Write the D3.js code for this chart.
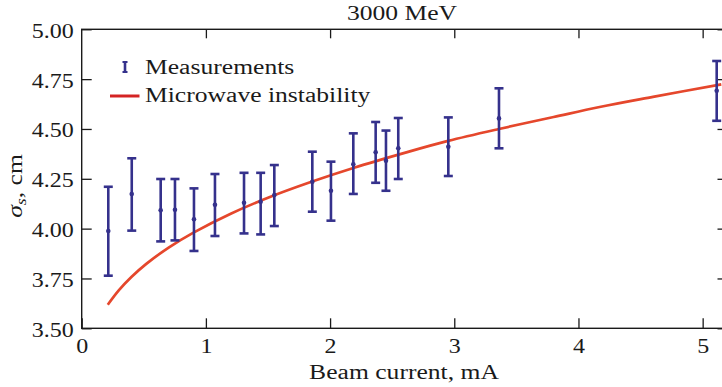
<!DOCTYPE html>
<html>
<head>
<meta charset="utf-8">
<style>
body { margin: 0; background: #fff; }
svg { display: block; font-family: "Liberation Serif", "DejaVu Serif", serif; }
</style>
</head>
<body>
<svg width="722" height="387"></svg>
<script src="https://cdn.jsdelivr.net/npm/d3@7/dist/d3.min.js"></script>
<script>

// measured points: beam current (mA), sigma_s centre and error bar ends (cm)
var current = [0.214, 0.403, 0.636, 0.751, 0.904, 1.073, 1.307, 1.441, 1.551, 1.857, 2.007, 2.187, 2.367, 2.450, 2.549, 2.952, 3.360, 5.113];
var sigma   = [3.988, 4.174, 4.092, 4.095, 4.047, 4.120, 4.130, 4.135, 4.169, 4.235, 4.190, 4.323, 4.383, 4.341, 4.403, 4.411, 4.553, 4.692];
var sigmaHi = [4.210, 4.353, 4.249, 4.249, 4.202, 4.274, 4.280, 4.280, 4.319, 4.386, 4.336, 4.478, 4.535, 4.492, 4.555, 4.558, 4.704, 4.841];
var sigmaLo = [3.764, 3.990, 3.936, 3.941, 3.888, 3.963, 3.976, 3.971, 4.013, 4.085, 4.040, 4.174, 4.230, 4.190, 4.249, 4.264, 4.403, 4.541];

// microwave instability curve
var curveX = [0.21, 0.30, 0.40, 0.52, 0.70, 0.90, 1.20, 1.50, 1.85, 2.20, 2.60, 2.95, 3.36, 3.80, 4.17, 4.60, 5.15];
var curveY = [3.618, 3.691, 3.757, 3.823, 3.905, 3.980, 4.075, 4.155, 4.235, 4.307, 4.380, 4.440, 4.500, 4.560, 4.610, 4.661, 4.724];

var xTicks = [0, 1, 2, 3, 4, 5];
var yTicks = [3.50, 3.75, 4.00, 4.25, 4.50, 4.75, 5.00];

var blue = "#35318c", red = "#e5472c", ink = "#1a1a1a";

var svg = d3.select("svg");

// plot frame runs a little past the right edge of the picture
var pL = 81.7, pR = 727.5, pT = 29.3, pB = 328.3;

var x = d3.scaleLinear().domain([0, 5.2]).range([pL, pR]);
var y = d3.scaleLinear().domain([3.5, 5.0]).range([pB, pT]);

var tickLen = 10;
var serif = "'Liberation Serif', 'DejaVu Serif', serif";
var wide = 1.28;   // the original type is wider than Times, stretch it a bit

// axes with inward ticks
svg.append("g")
    .attr("transform", "translate(0," + pB + ")")
    .call(d3.axisBottom(x).tickValues(xTicks).tickSizeInner(-tickLen).tickSizeOuter(0).tickPadding(0).tickFormat(d3.format("d")))
    .call(function(g) {
      g.attr("font-family", serif).attr("font-size", 20);
      g.select(".domain").remove();
      g.selectAll("text").attr("fill", ink).attr("y", 0).attr("dy", 0)
          .attr("transform", "translate(0,25) scale(1.2,1)");
    });

svg.append("g")
    .attr("transform", "translate(0," + pT + ")")
    .call(d3.axisTop(x).tickValues(xTicks.slice(1)).tickSizeInner(-9).tickSizeOuter(0).tickFormat(""))
    .call(function(g) { g.select(".domain").remove(); });

svg.append("g")
    .attr("transform", "translate(" + pL + ",0)")
    .call(d3.axisLeft(y).tickValues(yTicks).tickSizeInner(-tickLen).tickSizeOuter(0).tickPadding(0).tickFormat(d3.format(".2f")))
    .call(function(g) {
      g.attr("font-family", serif).attr("font-size", 20);
      g.select(".domain").remove();
      g.selectAll("text").attr("fill", ink).attr("x", 0).attr("dy", "0.4em")
          .attr("transform", "translate(-8,0) scale(1.2,1)");
    });

svg.append("g")
    .attr("transform", "translate(" + pR + ",0)")
    .call(d3.axisRight(y).tickValues(yTicks).tickSizeInner(-tickLen).tickSizeOuter(0).tickFormat(""))
    .call(function(g) { g.select(".domain").remove(); });

svg.selectAll(".tick line").attr("stroke", ink).attr("stroke-width", 1.3);

svg.append("rect")
    .attr("x", pL).attr("y", pT)
    .attr("width", pR - pL).attr("height", pB - pT)
    .attr("fill", "none").attr("stroke", ink).attr("stroke-width", 1.4);

// model curve
var pts = curveX.map(function(d, i) { return [d, curveY[i]]; });
svg.append("path")
    .datum(pts)
    .attr("fill", "none")
    .attr("stroke", red)
    .attr("stroke-width", 2.7)
    .attr("d", d3.line().x(function(d) { return x(d[0]); }).y(function(d) { return y(d[1]); }).curve(d3.curveCatmullRom));

// error bars
var bars = svg.append("g").selectAll("g")
    .data(current.map(function(c, i) { return {c: c, s: sigma[i], hi: sigmaHi[i], lo: sigmaLo[i]}; }))
  .enter().append("g")
    .attr("stroke", blue).attr("stroke-width", 2.6);

bars.append("line")
    .attr("x1", function(d) { return x(d.c); }).attr("x2", function(d) { return x(d.c); })
    .attr("y1", function(d) { return y(d.hi); }).attr("y2", function(d) { return y(d.lo); });
bars.append("line")
    .attr("x1", function(d) { return x(d.c) - 4.5; }).attr("x2", function(d) { return x(d.c) + 4.5; })
    .attr("y1", function(d) { return y(d.hi); }).attr("y2", function(d) { return y(d.hi); });
bars.append("line")
    .attr("x1", function(d) { return x(d.c) - 4.5; }).attr("x2", function(d) { return x(d.c) + 4.5; })
    .attr("y1", function(d) { return y(d.lo); }).attr("y2", function(d) { return y(d.lo); });
bars.append("circle")
    .attr("cx", function(d) { return x(d.c); }).attr("cy", function(d) { return y(d.s); })
    .attr("r", 2.3).attr("fill", blue).attr("stroke", "none");

// stretched text helper
function label(tx, ty, rot, anchor, str) {
  return svg.append("text")
      .attr("transform", "translate(" + tx + "," + ty + ")" + (rot ? " rotate(" + rot + ")" : "") + " scale(" + wide + ",1)")
      .attr("text-anchor", anchor).attr("font-size", 20).attr("fill", ink)
      .text(str);
}

// legend
var lx = 125, ly1 = 67, ly2 = 96;
var lg = svg.append("g");
lg.append("line").attr("x1", lx).attr("x2", lx).attr("y1", ly1 - 5).attr("y2", ly1 + 5).attr("stroke", blue).attr("stroke-width", 2.6);
lg.append("line").attr("x1", lx - 2.5).attr("x2", lx + 2.5).attr("y1", ly1 - 5).attr("y2", ly1 - 5).attr("stroke", blue).attr("stroke-width", 2);
lg.append("line").attr("x1", lx - 2.5).attr("x2", lx + 2.5).attr("y1", ly1 + 5).attr("y2", ly1 + 5).attr("stroke", blue).attr("stroke-width", 2);
lg.append("line").attr("x1", 110).attr("x2", 139.5).attr("y1", ly2).attr("y2", ly2).attr("stroke", "#d42424").attr("stroke-width", 3);
label(145, 74, 0, "start", "Measurements");
label(145, 102, 0, "start", "Microwave instability");

// titles
label(402, 20, 0, "middle", "3000 MeV");
label(404, 379, 0, "middle", "Beam current, mA");

var yl = label(22, 186, -90, "middle", "");
yl.append("tspan").attr("font-style", "italic").text("σ");
yl.append("tspan").attr("font-style", "italic").attr("font-size", 14).attr("dy", 4).text("s");
yl.append("tspan").attr("dy", -4).text(", cm");

</script>
</body>
</html>
